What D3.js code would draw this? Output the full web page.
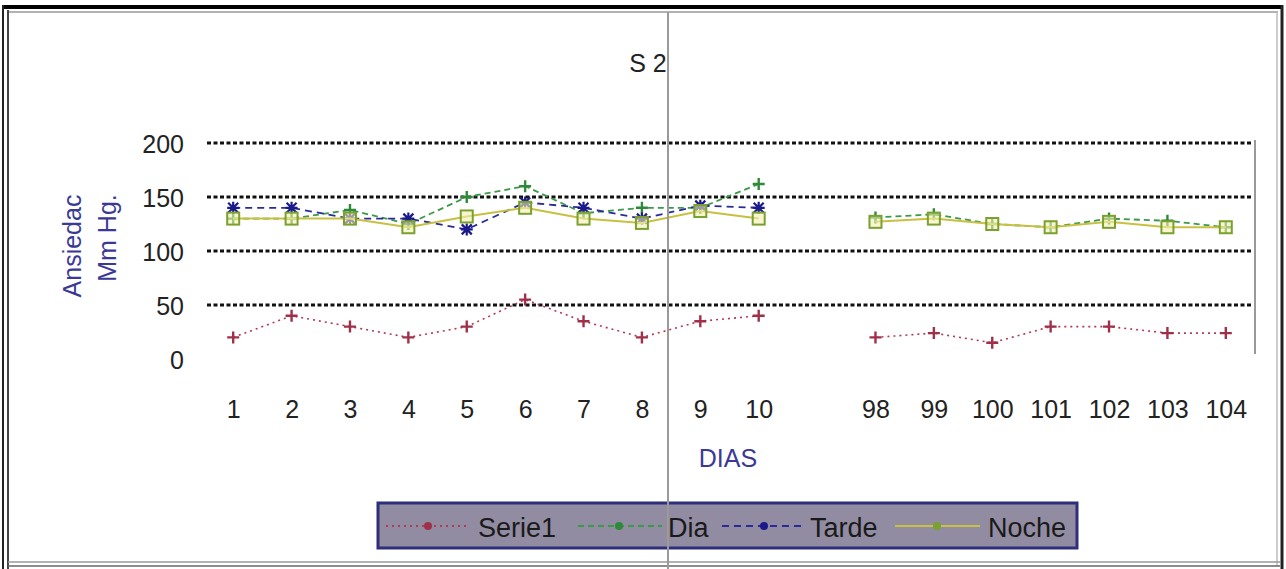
<!DOCTYPE html>
<html>
<head>
<meta charset="utf-8">
<script src="https://cdn.jsdelivr.net/npm/d3@7"></script>
<style>
  html, body { margin: 0; padding: 0; background: #fff; }
  svg { display: block; font-family: "Liberation Sans", Arial, sans-serif; }
</style>
</head>
<body>
<svg id="chart" width="1286" height="569"></svg>
<script>
// Days on the horizontal axis; the blank entry separates the two blocks of days
const dias = ["1","2","3","4","5","6","7","8","9","10"," ","98","99","100","101","102","103","104"];

// Readings per day (null = no reading)
const serie1 = [20, 40, 30, 20, 30, 55, 35, 20, 35, 40, null, 20, 24, 15, 30, 30, 24, 24];
const dia    = [130, 130, 138, 125, 150, 160, 135, 140, 140, 162, null, 131, 134, 125, 122, 130, 128, 122];
const tarde  = [140, 140, 130, 130, 120, 145, 140, 130, 142, 140, null, null, null, null, null, null, null, null];
const noche  = [130, 130, 130, 122, 132, 140, 130, 126, 137, 130, null, 127, 130, 125, 122, 127, 122, 122];

const yTicks = [0, 50, 100, 150, 200];
const gridValues = [50, 100, 150, 200];

const svg = d3.select("#chart");
const FONT = "Liberation Sans, Arial, sans-serif";

// Outer frame
svg.append("rect").attr("x", 0).attr("y", 0).attr("width", 1286).attr("height", 569).attr("fill", "#fff");
svg.append("line").attr("x1", 3).attr("x2", 1283).attr("y1", 7).attr("y2", 7).attr("stroke", "#000").attr("stroke-width", 4);
svg.append("line").attr("x1", 8).attr("x2", 1278).attr("y1", 12).attr("y2", 12).attr("stroke", "#999").attr("stroke-width", 1.5);
svg.append("line").attr("x1", 3).attr("x2", 3).attr("y1", 5).attr("y2", 569).attr("stroke", "#222").attr("stroke-width", 2);
svg.append("line").attr("x1", 8).attr("x2", 8).attr("y1", 10).attr("y2", 569).attr("stroke", "#444").attr("stroke-width", 2);
svg.append("line").attr("x1", 1282).attr("x2", 1282).attr("y1", 5).attr("y2", 569).attr("stroke", "#222").attr("stroke-width", 3);
svg.append("line").attr("x1", 1277).attr("x2", 1277).attr("y1", 12).attr("y2", 566).attr("stroke", "#bbb").attr("stroke-width", 1.5);
svg.append("line").attr("x1", 8).attr("x2", 1280).attr("y1", 562).attr("y2", 562).attr("stroke", "#999").attr("stroke-width", 1.5);
svg.append("line").attr("x1", 8).attr("x2", 1280).attr("y1", 566).attr("y2", 566).attr("stroke", "#666").attr("stroke-width", 1.5);

// Scales
const x = d3.scalePoint().domain(dias).range([204, 1255]).padding(0.5);
const y = d3.scaleLinear().domain([0, 200]).range([359, 143]);

// Dotted horizontal gridlines
svg.append("g").selectAll("line").data(gridValues).join("line")
  .attr("x1", 207).attr("x2", 1253)
  .attr("y1", d => y(d)).attr("y2", d => y(d))
  .attr("stroke", "#111").attr("stroke-width", 3.2)
  .attr("stroke-dasharray", "4,2.5");

// Right edge of the plot area
svg.append("line").attr("x1", 1255).attr("x2", 1255).attr("y1", 140).attr("y2", 354)
  .attr("stroke", "#999").attr("stroke-width", 2);

// Y axis tick labels
const yAxis = d3.axisLeft(y).tickValues(yTicks).tickSize(0).tickPadding(0);
const gy = svg.append("g").attr("transform", "translate(184,0)").call(yAxis);
gy.select(".domain").remove();
gy.selectAll("text").attr("font-size", 25).attr("fill", "#222")
  .attr("font-family", FONT).attr("dy", "0.36em");

// X axis tick labels
const xAxis = d3.axisBottom(x).tickSize(0).tickPadding(0);
const gx = svg.append("g").attr("transform", "translate(0,418)").call(xAxis);
gx.select(".domain").remove();
gx.selectAll("text").attr("font-size", 25).attr("fill", "#222")
  .attr("font-family", FONT).attr("dy", "0");

// Titles
svg.append("text").attr("x", 648).attr("y", 72).attr("text-anchor", "middle")
  .attr("font-size", 25).attr("fill", "#222").text("S 2");
svg.append("text").attr("x", 728).attr("y", 467).attr("text-anchor", "middle")
  .attr("font-size", 25).attr("fill", "#3a3a96").text("DIAS");
svg.append("text").attr("transform", "translate(81,246) rotate(-90)").attr("text-anchor", "middle")
  .attr("font-size", 25).attr("fill", "#3a3a96").text("Ansiedac");
svg.append("text").attr("transform", "translate(116,238) rotate(-90)").attr("text-anchor", "middle")
  .attr("font-size", 25).attr("fill", "#3a3a96").text("Mm Hg.");

// Series definitions
const series = [
  { name: "Serie1", values: serie1, color: "#b03a55", dash: "2,4", width: 1.6, marker: "plus", mcolor: "#a0304a" },
  { name: "Dia",    values: dia,    color: "#3a9a4a", dash: "6,4", width: 1.8, marker: "plus", mcolor: "#2e8a3a" },
  { name: "Tarde",  values: tarde,  color: "#2a2a9a", dash: "7,5", width: 1.8, marker: "star", mcolor: "#1a1a8a" },
  { name: "Noche",  values: noche,  color: "#c8c040", dash: null,  width: 2,   marker: "square", mcolor: "#7aa030" }
];

function drawMarker(g, type, cx, cy, color) {
  if (type === "plus") {
    g.append("path").attr("d", `M${cx-6},${cy}H${cx+6}M${cx},${cy-6}V${cy+6}`)
      .attr("stroke", color).attr("stroke-width", 2.4).attr("fill", "none");
  } else if (type === "star") {
    g.append("path").attr("d", `M${cx-6},${cy}H${cx+6}M${cx},${cy-6}V${cy+6}M${cx-5},${cy-5}L${cx+5},${cy+5}M${cx-5},${cy+5}L${cx+5},${cy-5}`)
      .attr("stroke", color).attr("stroke-width", 2.2).attr("fill", "none");
  } else if (type === "square") {
    g.append("rect").attr("x", cx-6).attr("y", cy-6).attr("width", 12).attr("height", 12)
      .attr("stroke", color).attr("stroke-width", 2).attr("fill", "#f4f0b0").attr("fill-opacity", 0.6);
  }
}

const line = d3.line().defined(d => d.v != null).x(d => x(d.k)).y(d => y(d.v));

series.forEach(s => {
  const pts = dias.map((k, i) => ({ k, v: s.values[i] }));
  const g = svg.append("g");
  g.append("path").datum(pts).attr("d", line)
    .attr("fill", "none").attr("stroke", s.color).attr("stroke-width", s.width)
    .attr("stroke-dasharray", s.dash);
  pts.filter(p => p.v != null).forEach(p => drawMarker(g, s.marker, x(p.k), y(p.v), s.mcolor));
});

// Legend
const lg = svg.append("g");
lg.append("rect").attr("x", 378).attr("y", 503).attr("width", 699).attr("height", 45)
  .attr("fill", "#928ca2").attr("stroke", "#2e2e7a").attr("stroke-width", 3);
const legendItems = [
  { s: series[0], x0: 386, x1: 470, mx: 428, tx: 478 },
  { s: series[1], x0: 578, x1: 662, mx: 619, tx: 668 },
  { s: series[2], x0: 722, x1: 806, mx: 764, tx: 810 },
  { s: series[3], x0: 895, x1: 980, mx: 937, tx: 988 }
];
legendItems.forEach(it => {
  lg.append("line").attr("x1", it.x0).attr("x2", it.x1).attr("y1", 526).attr("y2", 526)
    .attr("stroke", it.s.color).attr("stroke-width", 2).attr("stroke-dasharray", it.s.dash);
  lg.append("circle").attr("cx", it.mx).attr("cy", 526).attr("r", 4).attr("fill", it.s.mcolor);
  lg.append("text").attr("x", it.tx).attr("y", 537).attr("font-size", 27).attr("fill", "#1a1a1a")
    .text(it.s.name);
});

// Vertical rule crossing the figure
svg.append("line").attr("x1", 668).attr("x2", 668).attr("y1", 12).attr("y2", 569)
  .attr("stroke", "#9a9a9a").attr("stroke-width", 2);
</script>
</body>
</html>
